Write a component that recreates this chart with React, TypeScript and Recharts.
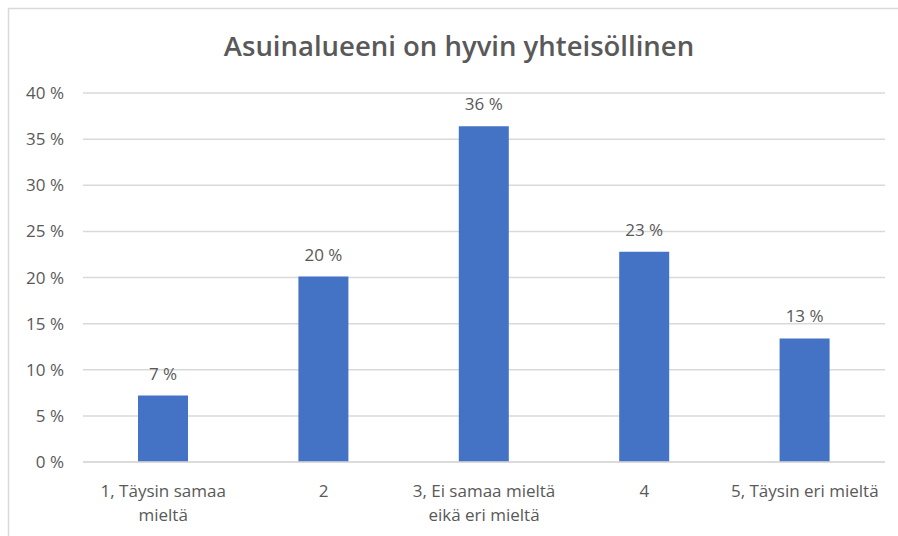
import React from "react";
import { BarChart, Bar, XAxis, YAxis, CartesianGrid, LabelList } from "recharts";

const categories = ["1, Täysin samaa mieltä", "2", "3, Ei samaa mieltä eikä eri mieltä", "4", "5, Täysin eri mieltä"];
const values = [7.2, 20.1, 36.4, 22.8, 13.4];
const valueLabels = ["7 %", "20 %", "36 %", "23 %", "13 %"];
const tickLines = [["1, Täysin samaa", "mieltä"], ["2"], ["3, Ei samaa mieltä", "eikä eri mieltä"], ["4"], ["5, Täysin eri mieltä"]];
const yTicks = [0, 5, 10, 15, 20, 25, 30, 35, 40];

const data = categories.map((c, i) => ({ name: c, value: values[i], label: valueLabels[i] }));

const FONT = "'Open Sans', 'Noto Sans', sans-serif";
const GRAY = "#595959";

const XTick = (props: any) => {
  const { x, y, index } = props;
  const lines = tickLines[index] || [];
  return (
    <g>
      {lines.map((l: string, i: number) => (
        <text key={i} x={x} y={y + 27 + i * 24} textAnchor="middle" fill={GRAY} fontSize={17} fontFamily={FONT}>
          {l}
        </text>
      ))}
    </g>
  );
};

const YTick = (props: any) => {
  const { y, payload } = props;
  return (
    <text x={64} y={y + 6} textAnchor="end" fill={GRAY} fontSize={17} fontFamily={FONT}>
      {payload.value + " %"}
    </text>
  );
};

export default function App() {
  return (
    <div style={{ position: "absolute", left: 0, top: 0, width: 898, height: 536, background: "#fff" }}>
      <svg width={898} height={536} style={{ position: "absolute", left: 0, top: 0 }}>
        <rect x={8.5} y={8.5} width={900} height={540} fill="#fff" stroke="#d9d9d9" strokeWidth={1.5} />
      </svg>
      <div style={{ position: "absolute", left: 0, top: 0 }}>
        <BarChart width={898} height={536} data={data} margin={{ top: 93, right: 13, left: 8, bottom: 0 }} barCategoryGap={0}>
          <text x={459} y={56} textAnchor="middle" fill={GRAY} fontSize={27.5} fontWeight={600} fontFamily={FONT}>
            Asuinalueeni on hyvin yhteisöllinen
          </text>
          <CartesianGrid vertical={false} stroke="#d9d9d9" strokeWidth={1.5} />
          <XAxis dataKey="name" axisLine={{ stroke: "#d9d9d9", strokeWidth: 1.5 }} tickLine={false} tick={<XTick />} interval={0} height={74} />
          <YAxis domain={[0, 40]} ticks={yTicks} axisLine={false} tickLine={false} tick={<YTick />} width={75} />
          <Bar dataKey="value" fill="#4472C4" barSize={50} isAnimationActive={false}>
            <LabelList dataKey="label" position="top" offset={16} fill={GRAY} fontSize={17} fontFamily={FONT} />
          </Bar>
        </BarChart>
      </div>
    </div>
  );
}
